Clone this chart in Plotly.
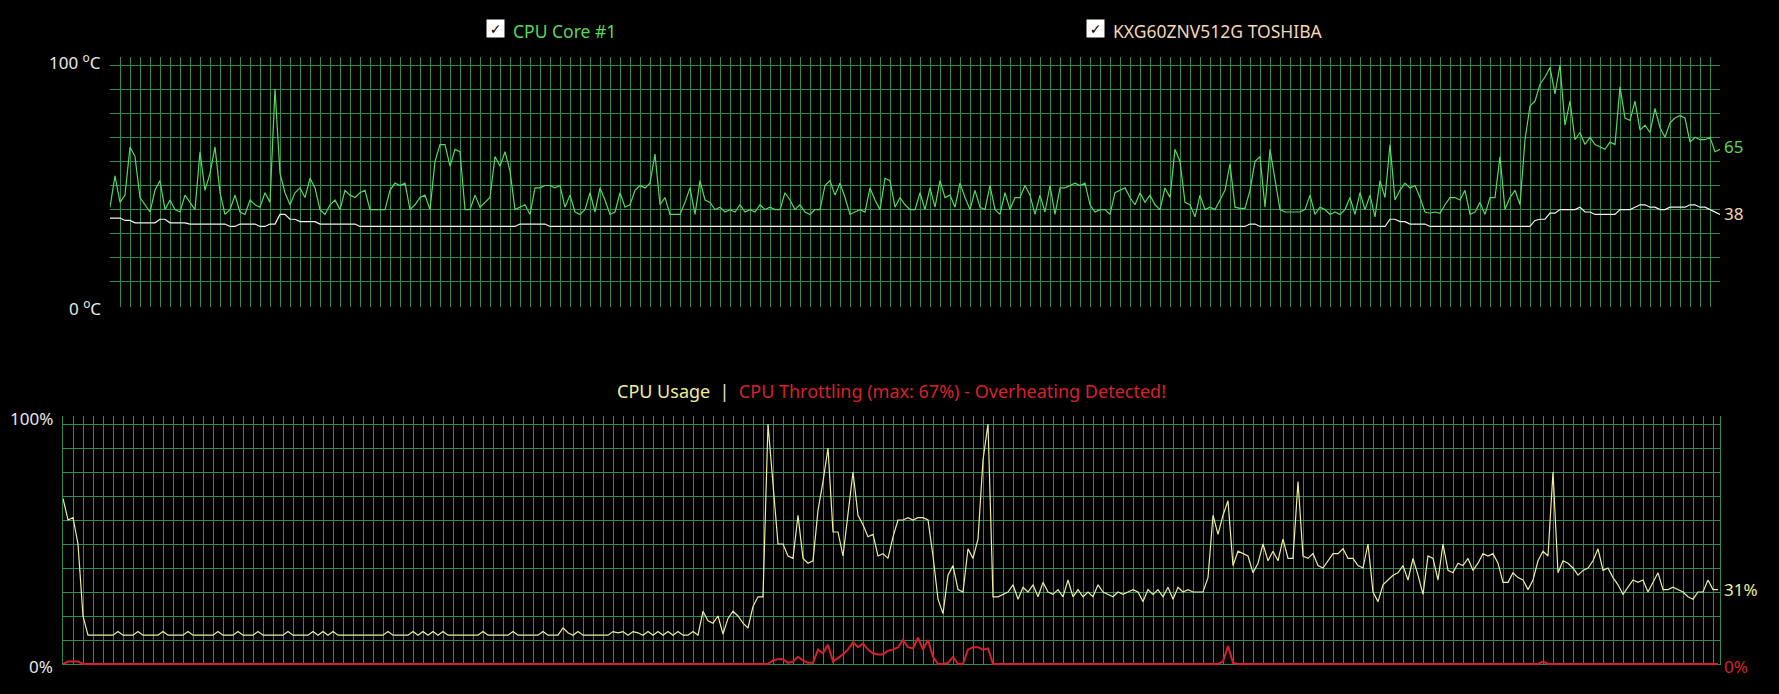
import plotly.graph_objects as go

# ---------------- data (one sample every ~5 px of the original screen) ----------------
CPU_TEMP = [
    41, 54, 43, 46, 66, 62, 45, 42, 39, 48,
    52, 40, 44, 40, 39, 46, 43, 40, 64, 48,
    55, 66, 47, 38, 40, 46, 39, 38, 44, 42,
    41, 47, 43, 90, 55, 47, 42, 47, 49, 45,
    53, 49, 40, 38, 42, 44, 40, 48, 46, 45,
    47, 48, 40, 40, 40, 40, 48, 51, 50, 51,
    40, 42, 45, 46, 40, 60, 67, 67, 58, 65,
    64, 40, 40, 46, 41, 43, 45, 62, 58, 64,
    56, 40, 41, 42, 38, 49, 49, 50, 50, 49,
    50, 41, 46, 39, 38, 40, 47, 39, 49, 44,
    38, 39, 47, 41, 42, 48, 50, 49, 51, 63,
    42, 45, 38, 38, 38, 43, 49, 38, 52, 44,
    43, 40, 41, 39, 40, 39, 42, 39, 40, 39,
    42, 40, 41, 40, 40, 47, 44, 40, 42, 39,
    38, 40, 40, 50, 52, 46, 51, 45, 38, 39,
    40, 39, 49, 44, 40, 53, 52, 41, 45, 42,
    40, 40, 47, 40, 49, 41, 52, 45, 46, 41,
    51, 45, 40, 48, 41, 40, 50, 40, 38, 47,
    40, 45, 45, 50, 46, 38, 46, 39, 50, 38,
    49, 49, 50, 51, 50, 51, 42, 39, 40, 40,
    38, 47, 48, 49, 45, 42, 47, 43, 46, 42,
    40, 49, 45, 65, 60, 43, 42, 37, 46, 40,
    41, 40, 44, 48, 59, 41, 40.5, 40.5, 48, 60,
    62, 41, 65, 52, 40, 39, 39, 39, 39, 40,
    46, 38, 41, 40, 38, 39, 38, 40, 45, 38,
    47, 40, 46, 37, 52, 45, 67, 44, 48, 51,
    49, 50, 45, 39, 38.5, 39, 38.5, 42, 45, 45,
    44, 48, 38, 39, 43, 38, 45, 45, 62, 40,
    45, 48, 42, 69, 83, 85, 92, 95, 99, 88,
    100, 75, 85, 69, 72, 67, 70, 67, 66, 65,
    68, 67, 91, 78, 77, 85, 73, 75, 72, 82,
    74, 70, 76, 78, 79, 78, 68, 70, 69, 69,
    70, 64, 65,
]

DISK_TEMP = [
    36.5, 36.5, 36.5, 35.5, 35.5, 34.5, 34.5, 34.5, 34.5, 34.5, 36, 36, 34.5, 34.5, 34.5, 34.5, 34, 34, 34, 34,
    34, 34, 34, 34, 33, 33, 34, 34, 34, 34, 33, 33, 34, 34, 38, 38, 36, 36, 35, 35,
    35, 35, 34, 34, 34, 34, 34, 34, 34, 34, 33, 33, 33, 33, 33, 33, 33, 33, 33, 33,
    33, 33, 33, 33, 33, 33, 33, 33, 33, 33, 33, 33, 33, 33, 33, 33, 33, 33, 33, 33,
    33, 33, 34, 34, 34, 34, 34, 34, 33, 33, 33, 33, 33, 33, 33, 33, 33, 33, 33, 33,
    33, 33, 33, 33, 33, 33, 33, 33, 33, 33, 33, 33, 33, 33, 33, 33, 33, 33, 33, 33,
    33, 33, 33, 33, 33, 33, 33, 33, 33, 33, 33, 33, 33, 33, 33, 33, 33, 33, 33, 33,
    33, 33, 33, 33, 33, 33, 33, 33, 33, 33, 33, 33, 33, 33, 33, 33, 33, 33, 33, 33,
    33, 33, 33, 33, 33, 33, 33, 33, 33, 33, 33, 33, 33, 33, 33, 33, 33, 33, 33, 33,
    33, 33, 33, 33, 33, 33, 33, 33, 33, 33, 33, 33, 33, 33, 33, 33, 33, 33, 33, 33,
    33, 33, 33, 33, 33, 33, 33, 33, 33, 33, 33, 33, 33, 33, 33, 33, 33, 33, 33, 33,
    33, 33, 33, 33, 33, 33, 33, 33, 34, 34, 33, 33, 33, 33, 33, 33, 33, 33, 33, 33,
    33, 33, 33, 33, 33, 33, 33, 33, 33, 33, 33, 33, 33, 33, 33, 33, 36, 36, 35, 35,
    34, 34, 34, 34, 33, 33, 33, 33, 33, 33, 33, 33, 33, 33, 33, 33, 33, 33, 33, 33,
    33, 33, 33, 33, 33, 35.5, 36, 36, 38.5, 38.5, 40, 40, 40, 40, 41, 39, 39, 38, 38, 38,
    38, 38, 40, 40, 40, 41, 42, 42, 41, 41, 40, 40, 41, 41, 41, 41, 42, 42, 41, 41,
    40, 39, 38,
]

CPU_USAGE = [
    69, 60, 61, 50, 20, 12, 12, 12, 12, 12,
    12, 13.5, 12, 12, 12, 13.5, 12, 12, 12, 12,
    13.5, 12, 12, 12, 12, 13.5, 12, 12, 12, 12,
    12, 13.5, 12, 12, 12, 13.5, 12, 12, 12, 13.5,
    12, 12, 12, 12, 12, 13.5, 12, 12, 12, 12,
    13.5, 12, 13.5, 12, 13.5, 12, 12, 12, 12, 12,
    12, 12, 12, 12, 12, 13.5, 12, 12, 12, 12,
    13.5, 12, 13.5, 12, 13.5, 12, 13.5, 12, 12, 12,
    12, 12, 12, 12, 13.5, 12, 12, 12, 12, 12,
    13.5, 12, 12, 12, 12, 12, 13.5, 12, 12, 12,
    15, 13, 12, 13.5, 12, 12, 12, 12, 12, 12,
    13.5, 13, 13.5, 12, 13.5, 13, 12, 13.5, 12, 13.5,
    12, 13.5, 12, 13.5, 12, 12, 13.5, 12, 22, 18,
    17, 20, 12.5, 19, 22, 20, 17, 15, 24, 28,
    28, 100, 75, 50, 50, 45, 44, 62, 44, 42,
    43, 64, 76, 90, 55, 55, 45, 62, 80, 62,
    58, 53, 54, 45, 46, 44, 53, 60, 60, 61,
    60, 61, 61, 60, 45, 27, 21, 37, 41, 31,
    30, 48, 44, 52, 85, 100, 28, 28, 29, 30,
    33, 27, 32, 30, 33, 28, 34, 30, 29, 31,
    28, 35, 28, 31, 28, 30, 28, 33, 30, 29,
    28, 30, 29, 30, 31, 30, 26, 31, 29, 31,
    28, 32, 27, 32, 30, 31, 30, 30, 30, 36,
    62, 54, 62, 68, 41, 47, 46, 45, 38, 42,
    50, 43, 47, 43, 52, 44, 44, 76, 45, 44,
    46, 41, 40, 43, 46, 46, 48, 44, 44, 41,
    40, 50, 30, 26, 33, 35, 37, 38, 41, 35,
    44, 37, 29, 45, 44, 35, 50, 39, 38, 42,
    41, 44, 39, 42, 46, 45, 46, 42, 34, 34,
    38, 36, 35, 31, 35, 43, 47, 45, 80, 38,
    43, 42, 40, 37, 39, 40, 43, 48, 39, 40,
    36, 33, 29, 32, 35, 34, 35, 30, 34, 38,
    31, 31, 32, 31, 30, 28, 27, 30, 30, 35,
    31, 31,
]

CPU_THROTTLE = [
    0, 1, 1, 1, 0, 0, 0, 0, 0, 0, 0, 0, 0, 0, 0, 0, 0, 0, 0, 0,
    0, 0, 0, 0, 0, 0, 0, 0, 0, 0, 0, 0, 0, 0, 0, 0, 0, 0, 0, 0,
    0, 0, 0, 0, 0, 0, 0, 0, 0, 0, 0, 0, 0, 0, 0, 0, 0, 0, 0, 0,
    0, 0, 0, 0, 0, 0, 0, 0, 0, 0, 0, 0, 0, 0, 0, 0, 0, 0, 0, 0,
    0, 0, 0, 0, 0, 0, 0, 0, 0, 0, 0, 0, 0, 0, 0, 0, 0, 0, 0, 0,
    0, 0, 0, 0, 0, 0, 0, 0, 0, 0, 0, 0, 0, 0, 0, 0, 0, 0, 0, 0,
    0, 0, 0, 0, 0, 0, 0, 0, 0, 0, 0, 0, 0, 0, 0, 0, 0, 0, 0, 0,
    0, 0, 1.5, 2, 2, 0.5, 1, 3, 1.5, 0.5, 0.5, 6, 4.5, 8, 1, 2.5, 4, 6, 9, 7,
    8.5, 6, 4.5, 4, 4, 5.5, 6, 7, 10, 7, 6.5, 11, 6, 10, 3, 0, 0, 0.5, 3, 0,
    0, 6, 7, 7, 6, 6.5, 0, 0, 0, 0, 0, 0, 0, 0, 0, 0, 0, 0, 0, 0,
    0, 0, 0, 0, 0, 0, 0, 0, 0, 0, 0, 0, 0, 0, 0, 0, 0, 0, 0, 0,
    0, 0, 0, 0, 0, 0, 0, 0, 0, 0, 0, 0, 1, 7.5, 0.5, 0, 0, 0, 0, 0,
    0, 0, 0, 0, 0, 0, 0, 0, 0, 0, 0, 0, 0, 0, 0, 0, 0, 0, 0, 0,
    0, 0, 0, 0, 0, 0, 0, 0, 0, 0, 0, 0, 0, 0, 0, 0, 0, 0, 0, 0,
    0, 0, 0, 0, 0, 0, 0, 0, 0, 0, 0, 0, 0, 0, 0, 0, 1, 0, 0, 0,
    0, 0, 0, 0, 0, 0, 0, 0, 0, 0, 0, 0, 0, 0, 0, 0, 0, 0, 0, 0,
    0, 0, 0, 0, 0, 0, 0, 0, 0, 0, 0, 0,
]

TEMP_LABELS = ["100 <sup>o</sup>C", "0 <sup>o</sup>C"]
USAGE_LABELS = ["100%", "0%"]
TOP_LEGEND = ["CPU Core #1", "KXG60ZNV512G TOSHIBA"]
BOTTOM_TITLE = ["CPU Usage", "|", "CPU Throttling (max: 67%) - Overheating Detected!"]

# ---------------- styling ----------------
W, H = 1779, 694
GRID = "#2f8a55"
GREEN = "#58d858"
WHITE = "#f4f1ea"
PEACH = "#f3d6b6"
YELLOW = "#eeee9a"
RED = "#d8202a"
TXT = "#e8e8e8"
FONT = "Noto Sans, Open Sans, sans-serif"


def px_x(p):
    return p / W


def px_y(p):
    return (H - p) / H


t_top = list(range(len(CPU_TEMP)))
t_bot = list(range(len(CPU_USAGE)))

fig = go.Figure()
fig.add_trace(go.Scatter(x=t_top, y=DISK_TEMP, mode="lines", line=dict(color=WHITE, width=1.2),
                         xaxis="x", yaxis="y", hoverinfo="skip"))
fig.add_trace(go.Scatter(x=t_top, y=CPU_TEMP, mode="lines", line=dict(color=GREEN, width=1.2),
                         xaxis="x", yaxis="y", hoverinfo="skip"))
fig.add_trace(go.Scatter(x=t_bot, y=CPU_USAGE, mode="lines", line=dict(color=YELLOW, width=1.2),
                         xaxis="x2", yaxis="y2", hoverinfo="skip"))
fig.add_trace(go.Scatter(x=t_bot, y=CPU_THROTTLE, mode="lines", line=dict(color=RED, width=2),
                         xaxis="x2", yaxis="y2", hoverinfo="skip"))

# top chart: x 110..1720, y(100)=65, y(0)=306 ; bottom: x 63..1720, y(100)=424, y(0)=664
top_ppu = (306 - 65) / 100.0
bot_ppu = (664 - 424) / 100.0
top_lo, top_hi = -0.4, (306 - 57) / top_ppu
bot_lo, bot_hi = -0.6, (664 - 416) / bot_ppu

axis_common = dict(showticklabels=False, zeroline=False, showgrid=True, gridcolor=GRID,
                   gridwidth=1, ticks="", fixedrange=True)

fig.update_layout(
    width=W, height=H, autosize=False,
    margin=dict(l=0, r=0, t=0, b=0),
    paper_bgcolor="#000000", plot_bgcolor="#000000",
    showlegend=False, hovermode=False,
    font=dict(family=FONT, color=TXT),
    xaxis=dict(domain=[px_x(110), px_x(1720)], range=[0, len(CPU_TEMP) - 1],
               tick0=0, dtick=2, anchor="y", **axis_common),
    yaxis=dict(domain=[px_y(306 + 0.4 * top_ppu), px_y(57)], range=[top_lo, top_hi],
               tick0=0, dtick=10, anchor="x", **axis_common),
    xaxis2=dict(domain=[px_x(63), px_x(1720)], range=[0, (1720 - 63) / 5.0],
                tick0=0, dtick=2, anchor="y2", **axis_common),
    yaxis2=dict(domain=[px_y(664 + 0.6 * bot_ppu), px_y(416)], range=[bot_lo, bot_hi],
                tick0=0, dtick=10, anchor="x2", showline=True, mirror=True,
                linecolor=GRID, linewidth=1, **axis_common),
)

ann = []
# axis end labels
ann.append(dict(x=0, y=100, xref="x", yref="y", text=TEMP_LABELS[0], showarrow=False,
                xanchor="right", yanchor="middle", xshift=-7, yshift=4,
                font=dict(size=17, color=TXT, family=FONT)))
ann.append(dict(x=0, y=0, xref="x", yref="y", text=TEMP_LABELS[1], showarrow=False,
                xanchor="right", yanchor="middle", xshift=-7, yshift=-1,
                font=dict(size=17, color=TXT, family=FONT)))
ann.append(dict(x=0, y=100, xref="x2", yref="y2", text=USAGE_LABELS[0], showarrow=False,
                xanchor="right", yanchor="middle", xshift=-8, yshift=6,
                font=dict(size=17, color=TXT, family=FONT)))
ann.append(dict(x=0, y=0, xref="x2", yref="y2", text=USAGE_LABELS[1], showarrow=False,
                xanchor="right", yanchor="middle", xshift=-8, yshift=-2,
                font=dict(size=17, color=TXT, family=FONT)))

# last-value labels on the right
ann.append(dict(x=t_top[-1], y=CPU_TEMP[-1], xref="x", yref="y", text=f"{CPU_TEMP[-1]:g}",
                showarrow=False, xanchor="left", yanchor="middle", xshift=2, yshift=3,
                font=dict(size=17, color=GREEN, family=FONT)))
ann.append(dict(x=t_top[-1], y=DISK_TEMP[-1], xref="x", yref="y", text=f"{DISK_TEMP[-1]:g}",
                showarrow=False, xanchor="left", yanchor="middle", xshift=2, yshift=1,
                font=dict(size=17, color=PEACH, family=FONT)))
ann.append(dict(x=(1720 - 63) / 5.0, y=CPU_USAGE[-1], xref="x2", yref="y2", text=f"{CPU_USAGE[-1]:g}%",
                showarrow=False, xanchor="left", yanchor="middle", xshift=2, yshift=0,
                font=dict(size=17, color=YELLOW, family=FONT)))
ann.append(dict(x=(1720 - 63) / 5.0, y=CPU_THROTTLE[-1], xref="x2", yref="y2", text=f"{CPU_THROTTLE[-1]:g}%",
                showarrow=False, xanchor="left", yanchor="middle", xshift=2, yshift=-2,
                font=dict(size=17, color=RED, family=FONT)))

# top legend with check boxes
for bx, tx, label, col in [(495.5, 511, TOP_LEGEND[0], GREEN), (1095.5, 1111, TOP_LEGEND[1], PEACH)]:
    ann.append(dict(x=px_x(bx), y=px_y(28.5), xref="paper", yref="paper", text="✓",
                    showarrow=False, xanchor="center", yanchor="middle", bgcolor="#ffffff",
                    width=17, height=17, borderpad=0, align="center", valign="middle",
                    font=dict(size=14, color="#000000", family="DejaVu Sans")))
    ann.append(dict(x=px_x(tx), y=px_y(31), xref="paper", yref="paper", text=label,
                    showarrow=False, xanchor="left", yanchor="middle",
                    font=dict(size=17.5, color=col, family=FONT)))

# bottom chart title
title_txt = (f"<span style='color:{YELLOW}'>{BOTTOM_TITLE[0]}</span>"
             f"<span style='color:#e0e0e0'>  {BOTTOM_TITLE[1]}  </span>"
             f"<span style='color:{RED}'>{BOTTOM_TITLE[2]}</span>")
ann.append(dict(x=px_x(891), y=px_y(391), xref="paper", yref="paper", text=title_txt,
                showarrow=False, xanchor="center", yanchor="middle",
                font=dict(size=18, color=TXT, family=FONT)))

fig.update_layout(annotations=ann)

fig.write_html("out.html", config={"displayModeBar": False, "staticPlot": True},
               post_script="document.body.style.margin='0';document.body.style.background='#000';")
